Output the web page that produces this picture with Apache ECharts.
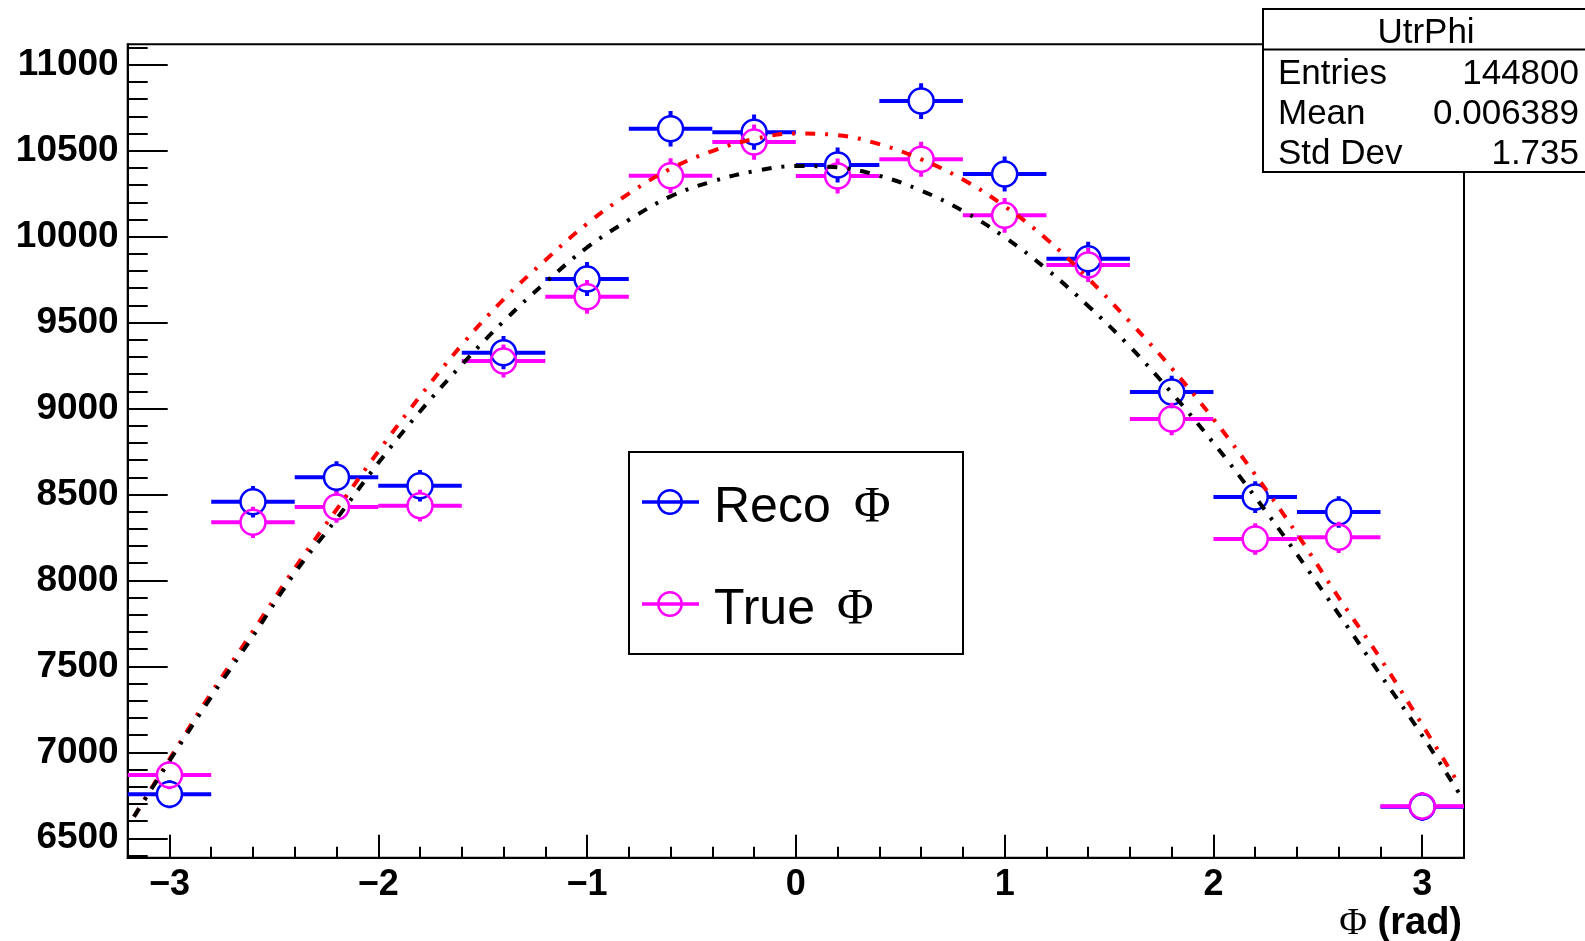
<!DOCTYPE html>
<html><head><meta charset="utf-8">
<script src="https://cdn.jsdelivr.net/npm/echarts@6/dist/echarts.min.js"></script>
<style>html,body{margin:0;padding:0;background:#fff;}#c{width:1585px;height:941px;}</style>
</head><body><div id="c"></div><script>
// ---- data ----
const binCenters = [-3.0,-2.6,-2.2,-1.8,-1.4,-1.0,-0.6,-0.2,0.2,0.6,1.0,1.4,1.8,2.2,2.6,3.0];
const binWidth = 0.4;
const recoValues = [6756,8458,8600,8551,9325,9753,10628,10608,10417,10789,10364,9871,9096,8485,8398,6683];
const recoErrors = [82,92,93,92,97,99,103,103,102,104,102,99,95,92,92,82];
const trueValues = [6868,8338,8427,8435,9276,9650,10354,10550,10353,10450,10124,9835,8939,8241,8251,6687];
const trueErrors = [83,91,92,92,96,98,102,103,102,102,101,99,95,91,91,82];

const redFitX = [-3.17,-3.0,-2.8,-2.6,-2.4,-2.2,-2.0,-1.8,-1.6,-1.4,-1.2,-1.0,-0.8,-0.6,-0.4,-0.2,0.0,0.2,0.4,0.6,0.8,1.0,1.2,1.4,1.6,1.8,2.0,2.2,2.4,2.6,2.8,3.0,3.18];
const redFitY = [6626,6960,7345,7705,8071,8412,8750,9071,9370,9635,9863,10075,10250,10395,10498,10568,10600,10590,10538,10450,10333,10177,9987,9757,9504,9235,8939,8615,8271,7900,7545,7160,6806];
const blackFitX = [-3.17,-3.0,-2.8,-2.6,-2.4,-2.2,-2.0,-1.8,-1.6,-1.4,-1.2,-1.0,-0.8,-0.6,-0.4,-0.2,0.0,0.2,0.4,0.6,0.8,1.0,1.2,1.4,1.6,1.8,2.0,2.2,2.4,2.6,2.8,3.0,3.187];
const blackFitY = [6626,6950,7322,7676,8043,8358,8683,8983,9255,9507,9733,9937,10097,10234,10321,10381,10411,10403,10354,10268,10150,9997,9812,9597,9360,9091,8800,8486,8152,7804,7451,7097,6742];

const xMin = -3.2, xMax = 3.2;
const yMin = 6387, yMax = 11119;
const xMajorTicks = [-3,-2,-1,0,1,2,3];
const xTickLabels = ['\u22123','\u22122','\u22121','0','1','2','3'];
const yMajorTicks = [6500,7000,7500,8000,8500,9000,9500,10000,10500,11000];
const yTickLabels = ['6500','7000','7500','8000','8500','9000','9500','10000','10500','11000'];
const xMinorTicks = []; for (let i = -16; i <= 16; i++) xMinorTicks.push(Math.round(i*2)/10);
const yMinorTicks = []; for (let v = 6400; v <= 11100; v += 100) yMinorTicks.push(v);

const legendLabels = ['Reco', 'True'];
const statsTitle = 'UtrPhi';
const statsLabels = ['Entries', 'Mean', 'Std Dev'];
const statsValues = ['144800', '0.006389', '1.735'];
const xTitleSym = '\u03A6', xTitleText = '(rad)';

const BLUE = '#0000ff', MAG = '#ff00ff', RED = '#ff0000', BLACK = '#000000';
const SANS = '"Liberation Sans", Arial, Helvetica, sans-serif';
const SERIF = '"Liberation Serif", "Times New Roman", serif';

function errRender(color) {
  return function (params, api) {
    const x = api.value(0), y = api.value(1), e = api.value(2);
    const c = api.coord([x, y]);
    const L = api.coord([x - binWidth / 2, y])[0];
    const R = api.coord([x + binWidth / 2, y])[0];
    const top = api.coord([x, y + e])[1];
    const bot = api.coord([x, y - e])[1];
    const r = 12.5;
    const ls = { stroke: color, lineWidth: 4 };
    const kids = [
      { type: 'line', shape: { x1: L, y1: c[1], x2: c[0] - r, y2: c[1] }, style: ls },
      { type: 'line', shape: { x1: c[0] + r, y1: c[1], x2: R, y2: c[1] }, style: ls }
    ];
    if (c[1] - r > top) kids.push({ type: 'line', shape: { x1: c[0], y1: top, x2: c[0], y2: c[1] - r }, style: ls });
    if (bot > c[1] + r) kids.push({ type: 'line', shape: { x1: c[0], y1: c[1] + r, x2: c[0], y2: bot }, style: ls });
    kids.push({ type: 'circle', shape: { cx: c[0], cy: c[1], r: r }, style: { stroke: color, lineWidth: 2.5, fill: 'transparent' } });
    return { type: 'group', children: kids };
  };
}

const recoData = binCenters.map((x, i) => [x, recoValues[i], recoErrors[i]]);
const trueData = binCenters.map((x, i) => [x, trueValues[i], trueErrors[i]]);
const redData = redFitX.map((x, i) => [x, redFitY[i]]);
const blackData = blackFitX.map((x, i) => [x, blackFitY[i]]);

const chart = echarts.init(document.getElementById('c'), null, { renderer: 'canvas' });

const legendColors = [BLUE, MAG];
const legendY = [502, 604];
const legendSymX = [854, 837];
const legendGraphics = [
  { type: 'rect', shape: { x: 629, y: 452, width: 334, height: 202 }, style: { fill: '#fff', stroke: '#000', lineWidth: 2 }, z: 100 }
];
legendLabels.forEach((lab, i) => {
  const cy = legendY[i];
  legendGraphics.push({ type: 'line', shape: { x1: 642, y1: cy, x2: 699, y2: cy }, style: { stroke: legendColors[i], lineWidth: 3.5 }, z: 101 });
  legendGraphics.push({ type: 'circle', shape: { cx: 670, cy: cy, r: 11.7 }, style: { stroke: legendColors[i], lineWidth: 2.5, fill: 'transparent' }, z: 102 });
  legendGraphics.push({ type: 'text', x: 714, y: cy + 6, style: { text: lab, font: '50px ' + SANS, fill: '#000', align: 'left', verticalAlign: 'middle' }, z: 102 });
  legendGraphics.push({ type: 'text', x: legendSymX[i], y: cy + 6, style: { text: '\u03A6', font: '50px ' + SERIF, fill: '#000', align: 'left', verticalAlign: 'middle' }, z: 102 });
});

const statsRowsY = [74, 114, 154];
const statsGraphics = [
  { type: 'rect', shape: { x: 1263, y: 9, width: 330, height: 163 }, style: { fill: '#fff', stroke: '#000', lineWidth: 2 }, z: 100 },
  { type: 'line', shape: { x1: 1263, y1: 49.5, x2: 1593, y2: 49.5 }, style: { stroke: '#000', lineWidth: 2 }, z: 101 },
  { type: 'text', x: 1426, y: 33, style: { text: statsTitle, font: '35px ' + SANS, fill: '#000', align: 'center', verticalAlign: 'middle' }, z: 102 }
];
statsLabels.forEach((lab, i) => {
  statsGraphics.push({ type: 'text', x: 1278, y: statsRowsY[i], style: { text: lab, font: '35px ' + SANS, fill: '#000', align: 'left', verticalAlign: 'middle' }, z: 102 });
  statsGraphics.push({ type: 'text', x: 1579, y: statsRowsY[i], style: { text: statsValues[i], font: '35px ' + SANS, fill: '#000', align: 'right', verticalAlign: 'middle' }, z: 102 });
});

const titleGraphics = [
  { type: 'text', x: 1462, y: 924, style: { text: xTitleText, font: 'bold 38px ' + SANS, fill: '#000', align: 'right', verticalAlign: 'middle' }, z: 102 },
  { type: 'text', x: 1367, y: 924, style: { text: xTitleSym, font: '38px ' + SERIF, fill: '#000', align: 'right', verticalAlign: 'middle' }, z: 102 }
];

const option = {
  animation: false,
  backgroundColor: '#fff',
  grid: { left: 127.7, right: 121, top: 44.3, bottom: 83.3, show: true, borderColor: '#000', borderWidth: 2, backgroundColor: 'transparent' },
  xAxis: [
    {
      type: 'value', min: xMin, max: xMax,
      axisLine: { show: true, onZero: false, lineStyle: { color: '#000', width: 2 } },
      axisTick: { show: true, inside: true, length: 23, customValues: xMajorTicks, lineStyle: { color: '#000', width: 2 } },
      axisLabel: { show: true, customValues: xMajorTicks, margin: 9, color: '#000', fontFamily: SANS, fontWeight: 'bold', fontSize: 36,
        formatter: v => xTickLabels[xMajorTicks.indexOf(Math.round(v))] },
      splitLine: { show: false }
    },
    {
      type: 'value', min: xMin, max: xMax, position: 'bottom',
      axisLine: { show: false, onZero: false },
      axisTick: { show: true, inside: true, length: 11, customValues: xMinorTicks, lineStyle: { color: '#000', width: 2 } },
      axisLabel: { show: false },
      splitLine: { show: false }
    }
  ],
  yAxis: [
    {
      type: 'value', min: yMin, max: yMax,
      axisLine: { show: true, onZero: false, lineStyle: { color: '#000', width: 2 } },
      axisTick: { show: true, inside: true, length: 40, customValues: yMajorTicks, lineStyle: { color: '#000', width: 2 } },
      axisLabel: { show: true, customValues: yMajorTicks, margin: 9, color: '#000', fontFamily: SANS, fontWeight: 'bold', fontSize: 37,
        formatter: v => yTickLabels[yMajorTicks.indexOf(Math.round(v))] },
      splitLine: { show: false }
    },
    {
      type: 'value', min: yMin, max: yMax, position: 'left',
      axisLine: { show: false, onZero: false },
      axisTick: { show: true, inside: true, length: 20, customValues: yMinorTicks, lineStyle: { color: '#000', width: 2 } },
      axisLabel: { show: false },
      splitLine: { show: false }
    }
  ],
  series: [
    { name: 'Reco \u03A6', type: 'custom', xAxisIndex: 0, yAxisIndex: 0, renderItem: errRender(BLUE), data: recoData, z: 3, clip: true },
    { name: 'True \u03A6', type: 'custom', xAxisIndex: 0, yAxisIndex: 0, renderItem: errRender(MAG), data: trueData, z: 4, clip: true },
    { name: 'fitRed', type: 'line', xAxisIndex: 0, yAxisIndex: 0, data: redData, smooth: 0.4, showSymbol: false, z: 5,
      lineStyle: { color: RED, width: 4, type: [10, 10, 3, 10], cap: 'butt' } },
    { name: 'fitBlack', type: 'line', xAxisIndex: 0, yAxisIndex: 0, data: blackData, smooth: 0.4, showSymbol: false, z: 6,
      lineStyle: { color: BLACK, width: 4, type: [10, 10, 3, 10], cap: 'butt' } }
  ],
  graphic: [].concat(legendGraphics, statsGraphics, titleGraphics)
};
chart.setOption(option);
</script></body></html>
